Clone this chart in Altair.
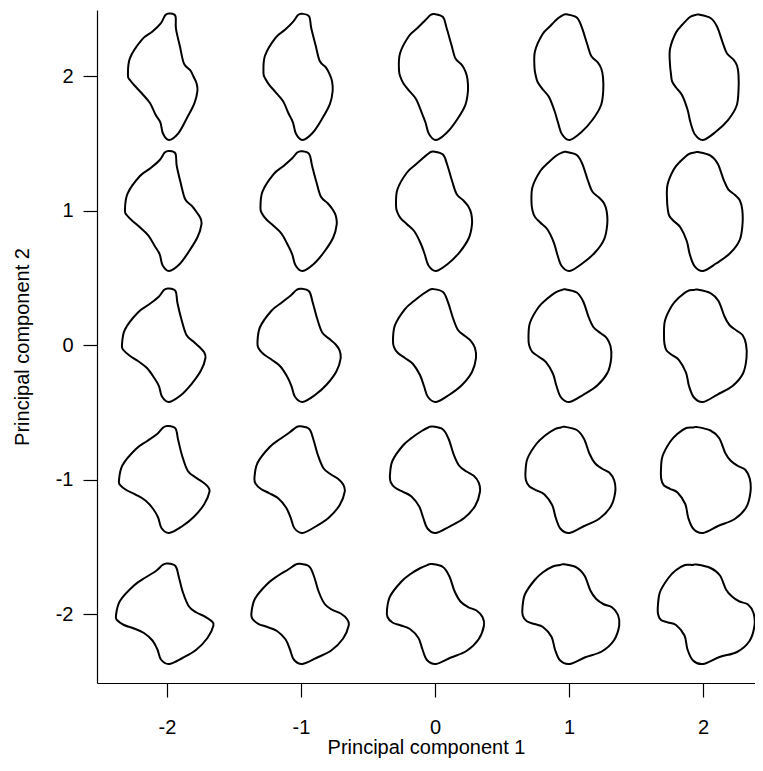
import altair as alt
import pandas as pd

# Grid of principal-component scores shown on both axes
pc_values = [-2, -1, 0, 1, 2]

# Outline landmarks (26 points, clockwise from the top),
# in screen pixels relative to each cell centre (y downward).
center_x = [-2, 8, 13, 18, 23, 30, 36, 40, 41, 37, 27, 14, 1, -7, -11, -15, -22, -30, -37, -41, -42, -40, -30, -21, -12, -6]
center_y = [-56, -53, -43, -27, -15, -9, -4, 3, 13, 27, 40, 50, 57, 52, 41, 30, 19, 13, 8, 2, -5, -20, -36, -44, -51, -55]

# shape at PC1 = -2, PC2 = 0
left_x = [2, 8, 10, 13, 18, 25, 32, 37, 38, 33, 23, 12, 2, -5, -8, -12, -18, -28, -37, -42, -43, -40, -28, -17, -8, -4]
left_y = [-57, -53, -40, -25, -8, -3, 1, 5, 12, 25, 38, 50, 57, 52, 40, 30, 23, 16, 10, 3, -4, -17, -33, -40, -47, -55]

# shape at PC1 = +2, PC2 = 0
right_x = [-5, 7, 15, 20, 25, 32, 39, 43, 43, 39, 28, 13, 0, -9, -14, -16, -22, -30, -36, -37, -37, -36, -30, -23, -15, -10]
right_y = [-56, -51, -42, -28, -18, -14, -11, -3, 12, 28, 40, 49, 57, 53, 40, 25, 15, 10, 5, -3, -15, -26, -40, -47, -53, -55]

# shape at PC1 = 0, PC2 = +2
top_x = [0, 8, 12, 17, 21, 27, 31, 32, 32, 29, 21, 11, 2, -6, -10, -14, -19, -27, -32, -35, -35, -32, -24, -17, -10, -5]
top_y = [-63, -58, -45, -28, -17, -11, -3, 6, 17, 30, 44, 57, 62, 57, 44, 32, 21, 13, 5, -5, -15, -30, -45, -51, -58, -62]

# shape at PC1 = 0, PC2 = -2
bottom_x = [-3, 8, 15, 20, 26, 33, 42, 47, 48, 42, 30, 15, 2, -8, -13, -17, -25, -35, -43, -48, -47, -42, -32, -24, -15, -8]
bottom_y = [-51, -46, -34, -20, -12, -7, -2, 6, 14, 27, 38, 44, 48, 45, 33, 20, 13, 10, 6, -3, -13, -25, -37, -43, -48, -50]

PX_PER_UNIT_X = 134.0
PX_PER_UNIT_Y = 134.5

rows = []
for a in pc_values:
    for b in pc_values:
        sid = f"{a}_{b}"
        for k in range(len(center_x)):
            dx = center_x[k] + a * (right_x[k] - left_x[k]) / 4 + b * (top_x[k] - bottom_x[k]) / 4
            dy = center_y[k] + a * (right_y[k] - left_y[k]) / 4 + b * (top_y[k] - bottom_y[k]) / 4
            rows.append({"shape": sid, "k": k,
                         "x": a + dx / PX_PER_UNIT_X,
                         "y": b - dy / PX_PER_UNIT_Y})
df = pd.DataFrame(rows)

FONT = "Liberation Sans"

chart = alt.Chart(df).mark_line(
    interpolate="cardinal-closed", color="black", strokeWidth=2
).encode(
    x=alt.X("x:Q",
            scale=alt.Scale(domain=[-2.522, 2.388], nice=False, zero=False),
            axis=alt.Axis(values=pc_values, title="Principal component 1",
                          labelExpr="'' + datum.value", labelPadding=20,
                          titlePadding=0)),
    y=alt.Y("y:Q",
            scale=alt.Scale(domain=[-2.513, 2.491], nice=False, zero=False),
            axis=alt.Axis(values=pc_values, title="Principal component 2",
                          labelExpr="'' + datum.value", labelPadding=10,
                          titlePadding=23)),
    detail="shape:N",
    order="k:Q",
).properties(
    width=658, height=673,
    autosize=alt.AutoSizeParams(type="none"),
    padding={"left": 89, "top": 2, "right": 0, "bottom": 85},
).configure_view(strokeWidth=0).configure_axis(
    grid=False, domainColor="black", domainWidth=1.2, tickColor="black",
    tickSize=14, tickWidth=1.2, labelFont=FONT, titleFont=FONT,
    labelFontSize=20, titleFontSize=20, labelColor="black", titleColor="black",
    titleFontWeight="normal",
)

chart.save("out.html", embed_options={"renderer": "svg", "actions": False})
